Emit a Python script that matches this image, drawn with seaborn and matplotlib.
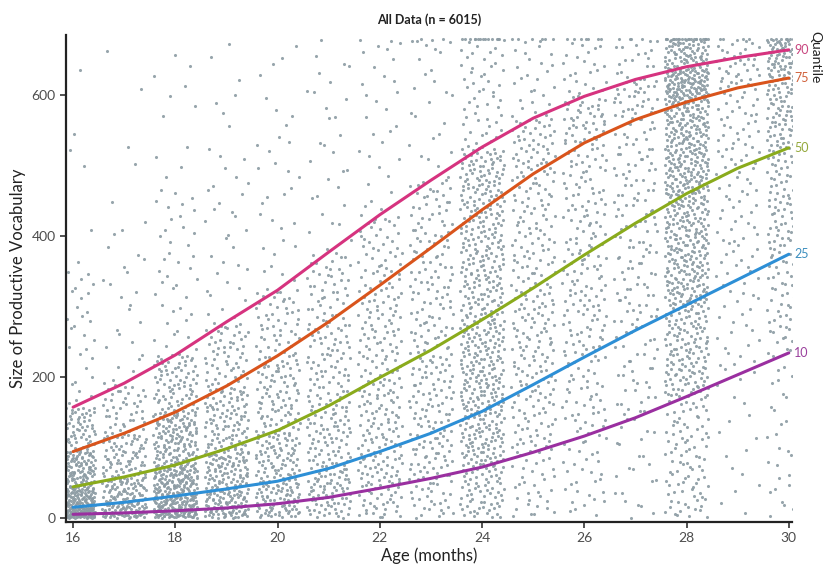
import numpy as np
import pandas as pd
import matplotlib
matplotlib.use("Agg")
import matplotlib.pyplot as plt
import seaborn as sns

# ages (months) and number of children at each age
ages = np.arange(16, 31)
counts = [560, 290, 520, 380, 330, 300, 300, 290, 640, 330, 300, 230, 920, 170, 455]

# quantile curves, one value per month
q10 = [5, 7, 10, 14, 20, 29, 42, 56, 72, 93, 116, 142, 172, 203, 234]
q25 = [15, 22, 31, 41, 52, 70, 94, 120, 151, 189, 228, 266, 302, 338, 374]
q50 = [44, 58, 75, 98, 124, 159, 199, 238, 281, 326, 373, 418, 460, 496, 525]
q75 = [94, 120, 150, 187, 230, 278, 330, 383, 437, 488, 532, 565, 590, 610, 624]
q90 = [157, 191, 231, 278, 323, 377, 430, 479, 526, 567, 598, 622, 640, 653, 664]
# rough upper edge of the point cloud per month
q98 = [350, 420, 470, 520, 560, 620, 660, 675, 680, 680, 680, 680, 680, 680, 680]
max_words = 680

quantiles = {"10": q10, "25": q25, "50": q50, "75": q75, "90": q90}
colors = {"90": "#d6337f", "75": "#d9541c", "50": "#8aab1c", "25": "#2d8fd6", "10": "#9a2fa0"}
label_colors = {"90": "#c8457f", "75": "#d0603a", "50": "#93a83a", "25": "#3d8fbf", "10": "#9a3f9c"}


def halton(i, base):
    f, r = 1.0, 0.0
    while i > 0:
        f /= base
        r += f * (i % base)
        i //= base
    return r


# spread the children of each month over the cloud (deterministic Halton dither)
xs, ys = [], []
k = 37
for i, m in enumerate(ages):
    probs = [0, 0.1, 0.25, 0.5, 0.75, 0.9, 0.98, 1.0]
    vals = [0, q10[i], q25[i], q50[i], q75[i], q90[i], q98[i], max_words]
    for j in range(counts[i]):
        k += 1
        u = halton(k, 2)
        v = halton(k, 3)
        xs.append(m + (u - 0.5) * 0.86)
        ys.append(np.interp(v, probs, vals))
pts = pd.DataFrame({"age": xs, "vocab": ys})

curves = pd.DataFrame({
    "age": np.tile(ages, len(quantiles)),
    "vocab": np.concatenate([quantiles[q] for q in quantiles]),
    "quantile": np.repeat(list(quantiles.keys()), len(ages)),
})

sns.set_theme(style="ticks")
plt.rcParams["font.family"] = ["Lato", "DejaVu Sans"]

fig = plt.figure(figsize=(8.24, 5.65), dpi=100)
ax = fig.add_axes([0.080, 0.076, 0.881, 0.862])

sns.scatterplot(data=pts, x="age", y="vocab", s=5, color="#8c9ba3",
                linewidth=0, alpha=0.9, ax=ax, legend=False)
sns.lineplot(data=curves, x="age", y="vocab", hue="quantile", palette=colors,
             linewidth=2.2, ax=ax, legend=False)

for q, vals in quantiles.items():
    ax.text(30.1, vals[-1], q, color=label_colors[q], fontsize=9,
            va="center", ha="left", clip_on=False)
fig.text(0.982, 0.945, "Quantile", rotation=270, fontsize=10, color="#222222",
         ha="left", va="top")

ax.set_xlim(15.86, 30.06)
ax.set_ylim(-6, 685)
ax.set_xticks([16, 18, 20, 22, 24, 26, 28, 30])
ax.set_yticks([0, 200, 400, 600])
ax.tick_params(labelsize=10, labelcolor="#4d4d4d", length=4, width=1.2, color="#333333")
for s in ["left", "bottom"]:
    ax.spines[s].set_linewidth(1.6)
    ax.spines[s].set_color("#222222")
sns.despine(ax=ax)

ax.set_xlabel("Age (months)", fontsize=12, color="#222222", labelpad=2)
ax.set_ylabel("Size of Productive Vocabulary", fontsize=12, color="#222222", labelpad=4)
ax.set_title("All Data (n = 6015)", fontsize=9, fontweight="bold", color="#222222", pad=8)

fig.savefig("out.png", dpi=100)
